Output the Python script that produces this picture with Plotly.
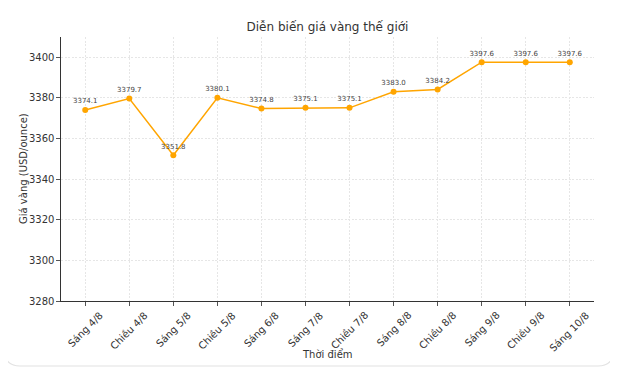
import plotly.graph_objects as go

categories = ["Sáng 4/8", "Chiều 4/8", "Sáng 5/8", "Chiều 5/8", "Sáng 6/8", "Sáng 7/8",
              "Chiều 7/8", "Sáng 8/8", "Chiều 8/8", "Sáng 9/8", "Chiều 9/8", "Sáng 10/8"]
prices = [3374.1, 3379.7, 3351.8, 3380.1, 3374.8, 3375.1, 3375.1, 3383.0, 3384.2, 3397.6, 3397.6, 3397.6]
y_ticks = [3280, 3300, 3320, 3340, 3360, 3380, 3400]

x_idx = list(range(len(categories)))
labels = [f"{v:.1f}" for v in prices]

fig = go.Figure()
fig.add_trace(go.Scatter(
    x=x_idx, y=prices, mode="lines+markers+text",
    line=dict(color="#FFA500", width=1.5),
    marker=dict(color="#FFA500", size=6),
    text=labels, textposition="top center",
    textfont=dict(size=7, color="#444444", family="DejaVu Sans"),
    cliponaxis=False, showlegend=False,
))

# page body adds an 8px offset; plot area spans x 61..594, y 37..301 in the window
W, H = 610, 365
L, T, R, B = 53, 29, 24, 72
pw, ph = W - L - R, H - T - B

def px(x):
    return (x - 8 - L) / pw

def py(y):
    return (H - B - (y - 8)) / ph

frame_path = (
    f"M {px(3)},{py(345)} "
    f"Q {px(3)},{py(366)} {px(20)},{py(366)} "
    f"L {px(598)},{py(366)} "
    f"Q {px(615)},{py(366)} {px(615)},{py(345)}"
)

annotations = []
# category labels rotated 45°, centred under each tick (matplotlib style)
for i, cat in enumerate(categories):
    annotations.append(dict(
        x=i, xref="x", y=0, yref="paper", yshift=-6,
        text=cat, textangle=-45, showarrow=False,
        xanchor="center", yanchor="top",
        font=dict(size=10, color="#333333", family="DejaVu Sans"),
    ))
annotations.append(dict(
    x=0.5, xref="paper", y=py(354), yref="paper", text="Thời điểm", showarrow=False,
    xanchor="center", yanchor="middle", font=dict(size=10, color="#333333"),
))
annotations.append(dict(
    x=px(23), xref="paper", y=0.5, yref="paper", text="Giá vàng (USD/ounce)",
    textangle=-90, showarrow=False, xanchor="center", yanchor="middle",
    font=dict(size=10, color="#333333"),
))

fig.update_layout(
    width=W, height=H,
    margin=dict(l=L, r=R, t=T, b=B, autoexpand=False),
    paper_bgcolor="white", plot_bgcolor="white",
    font=dict(family="DejaVu Sans", color="#333333"),
    title=dict(text="Diễn biến giá vàng thế giới", x=0.5, xref="paper", xanchor="center",
               y=1 - (27 - 8) / H, yref="container", yanchor="middle",
               font=dict(size=12, color="#333333")),
    shapes=[dict(type="path", xref="paper", yref="paper", path=frame_path,
                 line=dict(color="#e2e2e2", width=1.2), layer="below")],
    annotations=annotations,
)

fig.update_xaxes(
    range=[-0.55, 11.55], tickmode="array", tickvals=x_idx, ticktext=categories,
    showticklabels=False,
    showgrid=True, gridcolor="#e6e6e6", griddash="2px,1.5px", gridwidth=0.8,
    showline=True, linecolor="#333333", linewidth=1.2,
    ticks="outside", ticklen=3.5, tickcolor="#555555",
    zeroline=False,
)
fig.update_yaxes(
    range=[3280, 3410], tickmode="array", tickvals=y_ticks,
    tickfont=dict(size=10, color="#333333"),
    showgrid=True, gridcolor="#e6e6e6", griddash="2px,1.5px", gridwidth=0.8,
    showline=True, linecolor="#333333", linewidth=1.2,
    ticks="outside", ticklen=3.5, tickcolor="#555555",
    zeroline=False,
)

fig.write_html("out.html")
